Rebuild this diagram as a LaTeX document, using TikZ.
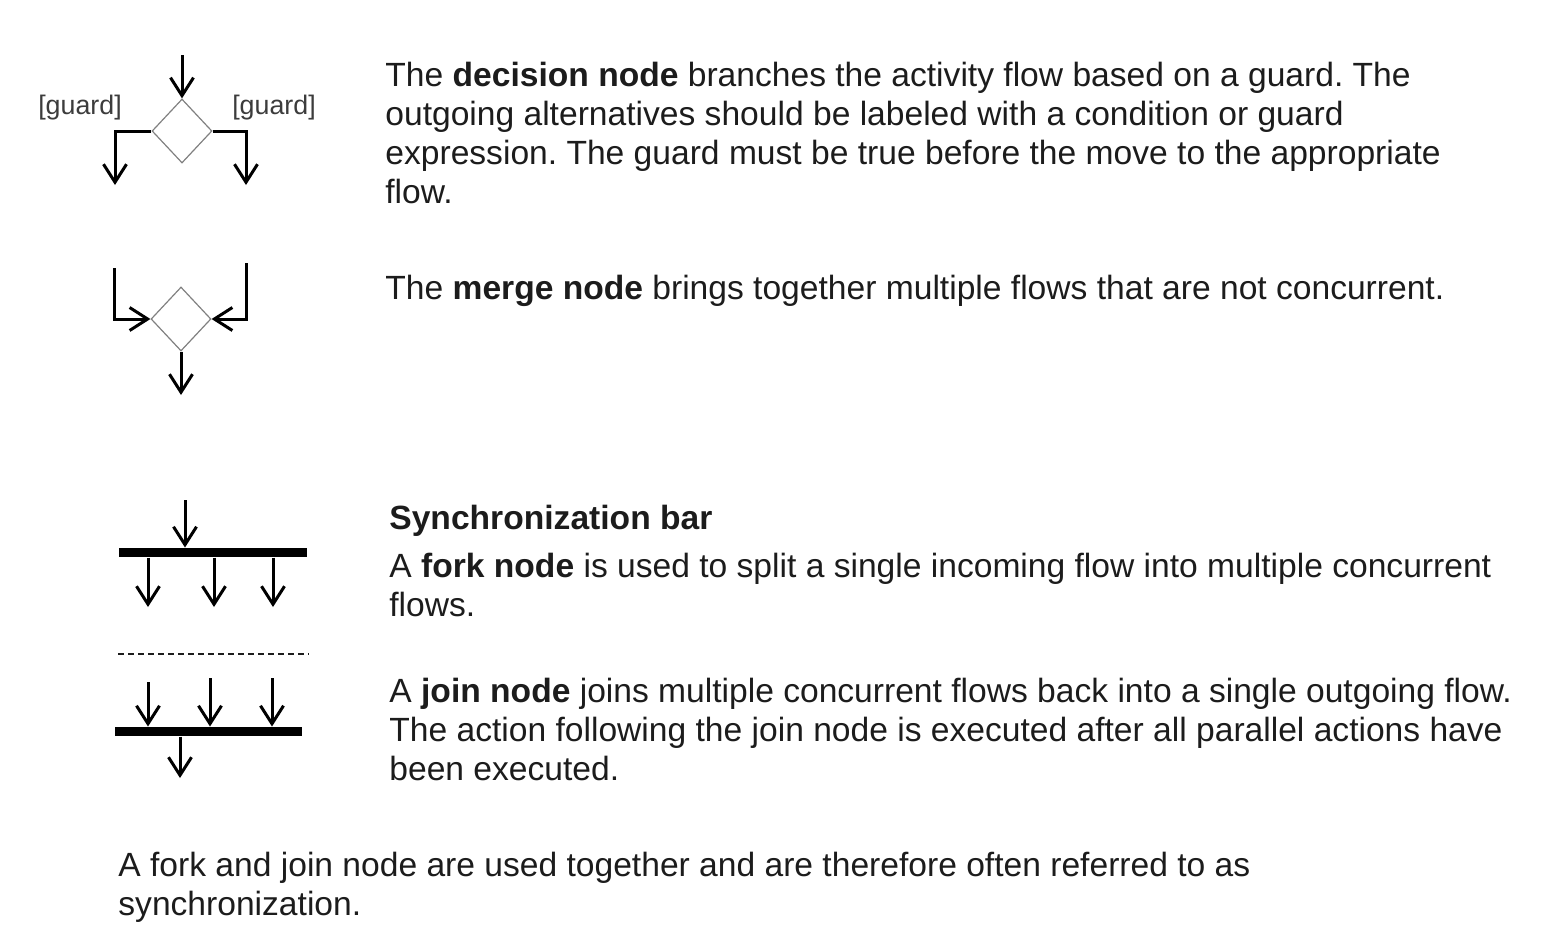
\documentclass[tikz,border=0pt]{standalone}
\usepackage{fontspec}
\setmainfont{Liberation Sans}
\frenchspacing
\definecolor{umltext}{RGB}{28,28,28}
\definecolor{umlgray}{RGB}{128,128,128}
\definecolor{umlguard}{RGB}{60,60,60}
\usetikzlibrary{arrows.meta,positioning,shapes.geometric}
\begin{document}
\begin{tikzpicture}[
  x=0.5pt, y=-0.5pt,
  umldecide/.style={
    diamond, draw=umlgray, line width=0.6pt,
    minimum width=30pt, minimum height=32pt,
    inner sep=0pt
  },
  umlbar/.style={
    rectangle, fill=black, inner sep=0pt,
    minimum height=4.6pt
  },
  conn/.style={-{Straight Barb[length=9pt,width=11.5pt]}, line width=1.5pt, draw=black},
  desc/.style={
    anchor=base west, inner sep=0pt, align=left,
    font=\fontsize{16.8}{19.5}\selectfont, text=umltext
  },
  guard/.style={font=\fontsize{13.4}{15}\selectfont, text=umlguard, inner sep=0pt}
]
\useasboundingbox (0,0) rectangle (1556,944);

% decision node
\node[umldecide] (dec) at (182,131) {};
\coordinate (decin) at (182,55);
\coordinate (decl) at (115,185);
\coordinate (decr) at (246,185);
\draw[conn] (decin) -- (dec.north);
\draw[conn] (dec.west) -| (decl);
\draw[conn] (dec.east) -| (decr);
\node[guard] (gl) at (80,108) {[guard]};
\node[guard] (gr) at (274,108) {[guard]};

% merge node
\node[umldecide] (mrg) at (181,319) {};
\coordinate (mrgl) at (114,268);
\coordinate (mrgr) at (246,263);
\coordinate (mrgout) at (181,395);
\draw[conn] (mrgl) |- (mrg.west);
\draw[conn] (mrgr) |- (mrg.east);
\draw[conn] (mrg.south) -- (mrgout);

% fork node
\node[umlbar, minimum width=94pt] (fork) at (213,552.5) {};
\coordinate (forkin) at (185,500);
\coordinate (f1) at (148,607);
\coordinate (f2) at (214,607);
\coordinate (f3) at (273,607);
\draw[conn] (forkin) -- (forkin |- fork.north);
\foreach \f in {f1,f2,f3}
  \draw[conn] (fork.south -| \f) -- (\f);

% separator
\coordinate (sepl) at (118,654);
\coordinate (sepr) at (309,654);
\draw[umltext, line width=0.7pt, dash pattern=on 3pt off 2pt] (sepl) -- (sepr);

% join node
\node[umlbar, minimum width=93.5pt] (join) at (208.5,731.5) {};
\coordinate (j1) at (148,682);
\coordinate (j2) at (210,678);
\coordinate (j3) at (272,678);
\coordinate (joinout) at (180,778);
\foreach \j in {j1,j2,j3}
  \draw[conn] (\j) -- (\j |- join.north);
\draw[conn] (joinout |- join.south) -- (joinout);

% texts (base = last line)
\node[desc] (dectext) at (385,203)
  {The \textbf{decision node} branches the activity flow based on a guard. The\\
   outgoing alternatives should be labeled with a condition or guard\\
   expression. The guard must be true before the move to the appropriate\\
   flow.};
\node[desc] (mrgtext) at (385,299)
  {The \textbf{merge node} brings together multiple flows that are not concurrent.};
\node[desc] (synctitle) at (389,529) {\textbf{Synchronization bar}};
\node[desc] (forktext) at (389,616)
  {A \textbf{fork node} is used to split a single incoming flow into multiple concurrent\\
   flows.};
\node[desc] (jointext) at (389,780)
  {A \textbf{join node} joins multiple concurrent flows back into a single outgoing flow.\\
   The action following the join node is executed after all parallel actions have\\
   been executed.};
\node[desc] (note) at (118,915)
  {A fork and join node are used together and are therefore often referred to as\\
   synchronization.};
\end{tikzpicture}
\end{document}
